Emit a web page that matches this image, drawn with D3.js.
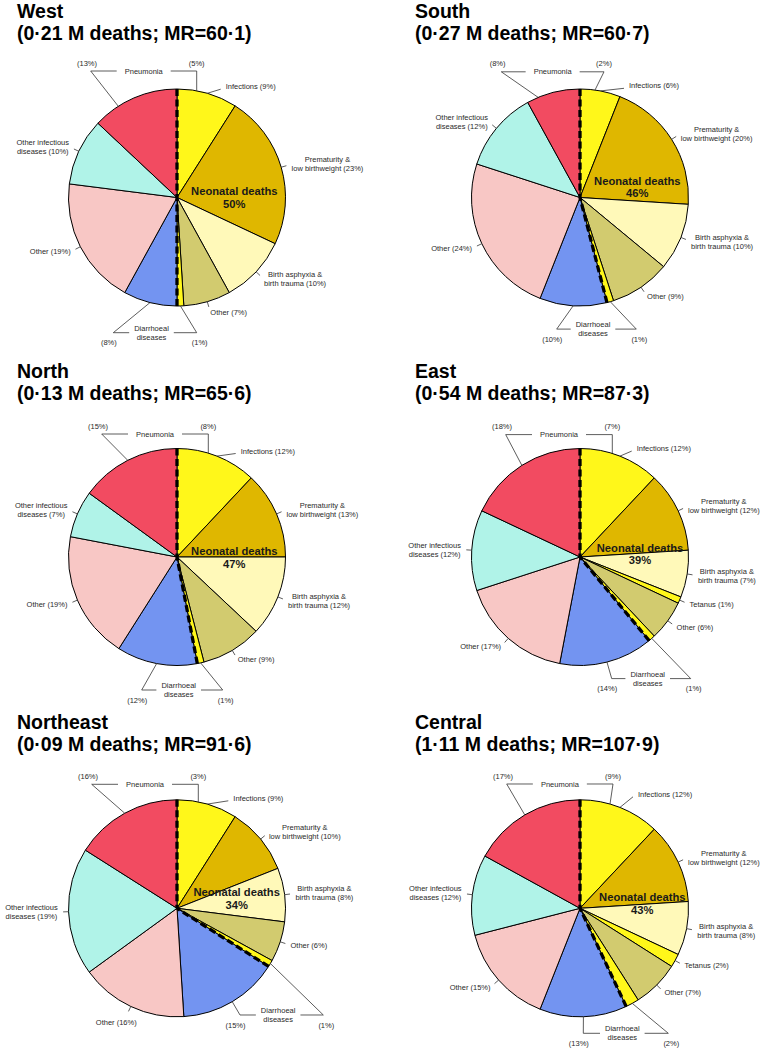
<!DOCTYPE html>
<html><head><meta charset="utf-8">
<script src="https://cdn.jsdelivr.net/npm/d3@7"></script>
<style>
body{margin:0;background:#fff}
svg{display:block}
text{font-family:"Liberation Sans",Arial,Helvetica,sans-serif}
</style>
</head><body>
<svg id="chart" width="768" height="1050"></svg>
<script>
// ---------- data ----------
const regions = ["West","South","North","East","Northeast","Central"];
const deathsMillions = ["0·21","0·27","0·13","0·54","0·09","1·11"];
const mortalityRate = ["60·1","60·7","65·6","87·3","91·6","107·9"];
const neonatalShare = [50,46,47,39,34,43];
// neonatal causes (% of all under-5 deaths)
const infections = [9,6,12,12,9,12];
const prematurity = [23,20,13,12,10,12];
const birthAsphyxia = [10,10,12,7,8,8];
const tetanus = [0,0,0,1,0,2];
const otherNeonatal = [7,9,9,6,6,7];
const diarrhoealNeonatal = [1,1,1,1,1,2];
// post-neonatal causes
const diarrhoealPost = [8,10,12,14,15,13];
const otherPost = [19,24,19,17,16,15];
const otherInfectious = [10,12,7,12,19,12];
const pneumoniaPost = [13,8,15,18,16,17];
const pneumoniaNeonatal = [5,2,8,7,3,9];
const sliceNames = ["Infections","Prematurity &\nlow birthweight","Birth asphyxia &\nbirth trauma","Tetanus","Other",
  "Diarrhoeal diseases","Diarrhoeal diseases","Other","Other infectious\ndiseases","Pneumonia"];

// ---------- styles / layout ----------
const seriesValues = [infections, prematurity, birthAsphyxia, tetanus, otherNeonatal, diarrhoealNeonatal,
  diarrhoealPost, otherPost, otherInfectious, pneumoniaPost];
const sliceColors = ["#FFF71A","#DFB700","#FFF9B9","#FFF71A","#D2CB6F","#FFF71A","#7394F1","#F8C7C5","#B0F3E8","#F24B61"];
const R = 108.5;
const colX = [177, 580], rowY = [197.5, 557, 908.3], titleX = [17, 415];
const layout = [
 {neo:[57.3,-6.5], inf:[48.7,-110.8], pn:{y:-126.5,L:-86.3,R:19.7,tL:90.9,tRx:19.7}, dr:{y:135.2,L:-63.7,R:19.7}},
 {neo:[57.3,-16.7], inf:[49,-111.7], pn:{y:-125.7,L:-78.7,R:24,tL:93.7,tRx:15}, dr:{y:131.6,L:-23.3,R:56.3}},
 {neo:[57.3,-6], inf:[63.7,-106], pn:{y:-123,L:-75.3,R:31.3,tL:92.5,tRx:31.3}, dr:{y:133,L:-35.3,R:45.7}},
 {neo:[60,-9.4], inf:[56.7,-108.4], pn:{y:-122.4,L:-74.3,R:32.3,tL:91,tRx:32.3}, dr:{y:121.6,L:31.7,R:110.7}},
 {neo:[59.7,-16], inf:[56.3,-110], pn:{y:-124,L:-85.3,R:21.3,tL:92,tRx:21.3}, dr:{y:106.7,L:63,R:146.3}, othP:[-40.3,113.7]},
 {neo:[62.3,-11], inf:[58,-114], pn:{y:-124.3,L:-73.3,R:33,tL:91.5,tRx:30}, dr:{y:125,L:3.3,R:88.3}}
];
const LBL = 7.5, TXT = "#2a2a2a", LINE = "#333";

const svg = d3.select("#chart");
const pct = d3.scaleLinear().domain([0,100]).range([0, 2*Math.PI]);
const pt = (a, rr) => [rr*Math.sin(a), -rr*Math.cos(a)];
const arc = d3.arc().innerRadius(0).outerRadius(R);

function smallText(g, x, y, str, anchor){
  return g.append("text").attr("x",x).attr("y",y).attr("dy","0.35em")
    .attr("text-anchor",anchor||"middle").attr("font-size",LBL).attr("fill",TXT).text(str);
}
function blockLabel(g, x, y, str, side){
  // R-style: block anchored left/right, each line centred within block
  const lines = str.split("\n");
  const lh = 9;
  const tmp = lines.map(l => smallText(g,0,0,l,"middle"));
  const bw = d3.max(tmp, t => t.node().getComputedTextLength());
  const cxL = side === "start" ? x + bw/2 : x - bw/2;
  tmp.forEach((t,k) => t.attr("x",cxL).attr("y", y + (k - (lines.length-1)/2)*lh));
}
function seg(g, pts){
  g.append("path").attr("d", d3.line()(pts)).attr("fill","none").attr("stroke",LINE).attr("stroke-width",0.8);
}

regions.forEach((name, i) => {
  const cx = colX[i%2], cy = rowY[Math.floor(i/2)];
  const L = layout[i];
  // title
  const t = svg.append("text").attr("x", titleX[i%2]).attr("y", cy - 179.5)
    .attr("font-size",19.5).attr("font-weight","bold").attr("fill","#000");
  t.append("tspan").attr("x", titleX[i%2]).text(name);
  t.append("tspan").attr("x", titleX[i%2]).attr("dy", 22).text(`(${deathsMillions[i]} M deaths; MR=${mortalityRate[i]})`);

  const g = svg.append("g").attr("transform", `translate(${cx},${cy})`);
  const data = seriesValues.map((s,j) => ({j, value: s[i]}));
  const arcs = d3.pie().sort(null).value(d => d.value)(data);
  const shown = arcs.filter(d => d.data.value > 0);
  g.selectAll("path.slice").data(shown).join("path").attr("class","slice")
    .attr("d", arc).attr("fill", d => sliceColors[d.data.j])
    .attr("stroke","#000").attr("stroke-width",1).attr("stroke-linejoin","round");

  // neonatal / post-neonatal divider (dashed)
  const boundary = arcs[5].endAngle;
  [0, boundary].forEach(a => {
    const p = pt(a, R);
    g.append("line").attr("x1",p[0]).attr("y1",p[1]).attr("x2",0).attr("y2",0)
      .attr("stroke","#000").attr("stroke-width",3.3).attr("stroke-dasharray","7 3.5");
  });

  // simple labels (R pie style)
  arcs.forEach(d => {
    const j = d.data.j, v = d.data.value;
    if (v <= 0 || j === 5 || j === 6 || j === 9) return;
    const mid = (d.startAngle + d.endAngle)/2;
    const e = pt(mid, R);
    const label = `${sliceNames[j]} (${v}%)`;
    if (j === 0) {
      const a = L.inf;
      seg(g, [e, [a[0]-5, a[1]+2.5]]);
      smallText(g, a[0], a[1], label, "start");
      return;
    }
    seg(g, [e, pt(mid, R*1.05)]);
    let p = pt(mid, R*1.1);
    let side = p[0] < 0 ? "end" : "start";
    if (j === 7 && L.othP) p = L.othP;
    blockLabel(g, p[0], p[1], label, side);
  });

  // Pneumonia bracket (post-neonatal left, neonatal right)
  const pn = L.pn, pnW = 38, pnGap = 8, pnMid = (pn.L + pn.R)/2;
  seg(g, [pt(pct(pn.tL), R), [pn.L, pn.y], [pnMid - pnW/2 - pnGap, pn.y]]);
  seg(g, [[pnMid + pnW/2 + pnGap, pn.y], [pn.R, pn.y], [pn.tRx, -Math.sqrt(R*R - pn.tRx*pn.tRx)]]);
  smallText(g, pnMid, pn.y, "Pneumonia");
  smallText(g, pn.L - 3.7, pn.y - 8, `(${pneumoniaPost[i]}%)`);
  smallText(g, pn.R, pn.y - 8, `(${pneumoniaNeonatal[i]}%)`);

  // Diarrhoeal bracket
  const dr = L.dr, drMid = (dr.L + dr.R)/2 - 3.5, drHalf = 17.3, drGap = 5;
  const aP = (arcs[6].startAngle + arcs[6].endAngle)/2;
  const aN = (arcs[5].startAngle + arcs[5].endAngle)/2;
  seg(g, [pt(aP, R), [dr.L, dr.y], [drMid - drHalf - drGap, dr.y]]);
  seg(g, [[drMid + drHalf + drGap, dr.y], [dr.R, dr.y], pt(aN, R)]);
  smallText(g, drMid, dr.y - 4.5, "Diarrhoeal");
  smallText(g, drMid, dr.y + 4.5, "diseases");
  smallText(g, dr.L - 4.5, dr.y + 10, `(${diarrhoealPost[i]}%)`);
  smallText(g, dr.R + 3, dr.y + 10, `(${diarrhoealNeonatal[i]}%)`);

  // Neonatal deaths label
  const nt = g.append("text").attr("text-anchor","middle").attr("font-size",11.2)
    .attr("font-weight","bold").attr("fill","#1a1a1a");
  nt.append("tspan").attr("x", L.neo[0]).attr("y", L.neo[1]).attr("dy","0.35em").text("Neonatal deaths");
  nt.append("tspan").attr("x", L.neo[0]).attr("y", L.neo[1] + 12.7).attr("dy","0.35em").text(`${neonatalShare[i]}%`);
});
</script>
</body></html>
